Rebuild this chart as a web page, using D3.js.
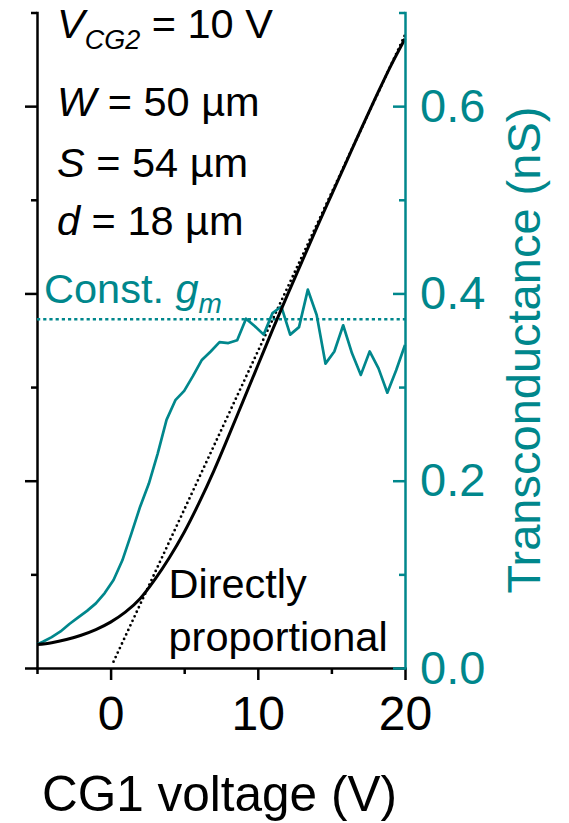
<!DOCTYPE html>
<html>
<head>
<meta charset="utf-8">
<script src="https://cdn.jsdelivr.net/npm/d3@7"></script>
<style>
  body { margin: 0; background: #fff; }
  svg { display: block; }
  text { font-family: "Liberation Sans", Arial, Helvetica, sans-serif; }
</style>
</head>
<body>
<svg id="chart" width="569" height="823"></svg>
<script>
// Drain current (arbitrary units, left axis) vs CG1 voltage
const voltage = [-5, -4, -3, -2, -1, 0, 1, 2, 3, 4, 5, 6, 7, 8, 9, 10,
                 11, 12, 13, 14, 15, 16, 17, 18, 19, 20];
const current = [0.125, 0.135, 0.152, 0.175, 0.205, 0.245, 0.298, 0.37, 0.472, 0.59,
                 0.725, 0.88, 1.05, 1.235, 1.425, 1.615, 1.805, 1.99, 2.17, 2.35,
                 2.525, 2.70, 2.875, 3.045, 3.21, 3.36];

// Transconductance (nS, right axis)
const gmVoltage = [-5.0, -4.6, -4.0, -3.4, -2.8, -2.2, -1.6, -1.0, -0.4, 0.2,
                   0.8, 1.4, 2.0, 2.6, 3.2, 3.8, 4.4, 5.0, 5.6, 6.2,
                   6.8, 7.4, 8.0, 8.6, 9.2, 9.8, 10.4, 11.0, 11.6, 12.2,
                   12.8, 13.4, 14.0, 14.6, 15.2, 15.8, 16.4, 17.0, 17.6, 18.2,
                   18.8, 19.4, 20.0];
const gm = [0.025, 0.028, 0.033, 0.039, 0.047, 0.054, 0.061, 0.069, 0.080, 0.094,
            0.115, 0.143, 0.172, 0.197, 0.229, 0.265, 0.286, 0.296, 0.312, 0.329,
            0.338, 0.348, 0.347, 0.350, 0.373, 0.365, 0.356, 0.379, 0.386, 0.356,
            0.364, 0.404, 0.377, 0.325, 0.338, 0.366, 0.336, 0.313, 0.338, 0.320,
            0.294, 0.318, 0.345];

// Directly proportional reference line (left axis units)
const propVoltage = [0.2, 20];
const propCurrent = [0.034, 3.38];

// Constant transconductance level (nS)
const constGm = 0.3725;

// Tick values
const xMajor = [0, 10, 20];
const xMinor = [-5, 5, 15];
const leftMajor = [0, 1, 2, 3];
const leftMinor = [0.5, 1.5, 2.5, 3.5];
const gmMajor = [0, 0.2, 0.4, 0.6];
const gmMinor = [0.1, 0.3, 0.5, 0.7];

const teal = "#00878c";
const svg = d3.select("#chart");

const x = d3.scaleLinear().domain([-5, 20]).range([37, 405]);
const yL = d3.scaleLinear().domain([0, 3.5]).range([668, 12.5]);
const yR = d3.scaleLinear().domain([0, 0.7]).range([668, 12.5]);

function styleAxis(g, color, size) {
  g.attr("color", color).attr("font-size", size)
   .attr("font-family", '"Liberation Sans", Arial, sans-serif');
  g.selectAll("path, line").attr("stroke-width", 2.5);
  g.selectAll("path.domain").attr("stroke-linecap", "square");
}

// x axis
const gx = svg.append("g").attr("transform", "translate(0,668)");
gx.call(d3.axisBottom(x).tickValues(xMajor).tickSize(12).tickPadding(16).tickSizeOuter(0)
  .tickFormat(d3.format("d")));
styleAxis(gx, "#000", 48);
const gxm = svg.append("g").attr("transform", "translate(0,668)");
gxm.call(d3.axisBottom(x).tickValues(xMinor).tickSize(6).tickSizeOuter(0).tickFormat(""));
gxm.select("path.domain").remove();
styleAxis(gxm, "#000", 10);

// left axis (unlabelled)
const gl = svg.append("g").attr("transform", "translate(37,0)");
gl.call(d3.axisLeft(yL).tickValues(leftMajor).tickSize(12).tickSizeOuter(0).tickFormat(""));
styleAxis(gl, "#000", 10);
const glm = svg.append("g").attr("transform", "translate(37,0)");
glm.call(d3.axisLeft(yL).tickValues(leftMinor).tickSize(6).tickSizeOuter(0).tickFormat(""));
glm.select("path.domain").remove();
styleAxis(glm, "#000", 10);

// curves
const lineI = d3.line().x((d, i) => x(voltage[i])).y(d => yL(d)).curve(d3.curveMonotoneX);
const lineGm = d3.line().x((d, i) => x(gmVoltage[i])).y(d => yR(d));
const lineProp = d3.line().x((d, i) => x(propVoltage[i])).y(d => yL(d));

svg.append("line")
  .attr("x1", x(-5)).attr("x2", x(20))
  .attr("y1", yR(constGm)).attr("y2", yR(constGm))
  .attr("stroke", teal).attr("stroke-width", 2.6)
  .attr("stroke-dasharray", "3.2,3");

svg.append("path").datum(propCurrent).attr("d", lineProp)
  .attr("fill", "none").attr("stroke", "#000").attr("stroke-width", 2.8)
  .attr("stroke-linecap", "round").attr("stroke-dasharray", "0,5");

svg.append("path").datum(gm).attr("d", lineGm)
  .attr("fill", "none").attr("stroke", teal).attr("stroke-width", 2.7)
  .attr("stroke-linejoin", "round");

svg.append("path").datum(current).attr("d", lineI)
  .attr("fill", "none").attr("stroke", "#000").attr("stroke-width", 3);

// right axis (transconductance), ticks pointing inward
const gr = svg.append("g").attr("transform", "translate(405,0)");
gr.call(d3.axisRight(yR).tickValues(gmMajor).tickSizeInner(-12).tickSizeOuter(0).tickPadding(15)
  .tickFormat(d3.format(".1f")));
styleAxis(gr, teal, 47);
const grm = svg.append("g").attr("transform", "translate(405,0)");
grm.call(d3.axisRight(yR).tickValues(gmMinor).tickSizeInner(-6).tickSizeOuter(0).tickFormat(""));
grm.select("path.domain").remove();
styleAxis(grm, teal, 10);

// axis titles
svg.append("text")
  .attr("x", 42).attr("y", 811)
  .attr("font-size", 49.5).attr("fill", "#000")
  .text("CG1 voltage (V)");

svg.append("text")
  .attr("transform", "translate(540,350) rotate(-90)")
  .attr("text-anchor", "middle")
  .attr("font-size", 47).attr("fill", teal)
  .text("Transconductance (nS)");

// device parameters
const params = svg.append("g").attr("font-size", 41.5).attr("fill", "#000");
const t1 = params.append("text").attr("x", 57).attr("y", 38);
t1.append("tspan").attr("font-style", "italic").text("V");
t1.append("tspan").attr("font-style", "italic").attr("font-size", 27).attr("dy", 11).text("CG2");
t1.append("tspan").attr("dy", -11).text(" = 10 V");

const t2 = params.append("text").attr("x", 57).attr("y", 116);
t2.append("tspan").attr("font-style", "italic").text("W");
t2.append("tspan").text(" = 50 \u00B5m");

const t3 = params.append("text").attr("x", 57).attr("y", 177);
t3.append("tspan").attr("font-style", "italic").text("S");
t3.append("tspan").text(" = 54 \u00B5m");

const t4 = params.append("text").attr("x", 57).attr("y", 235);
t4.append("tspan").attr("font-style", "italic").text("d");
t4.append("tspan").text(" = 18 \u00B5m");

// constant-gm label
const tg = svg.append("text").attr("x", 44).attr("y", 303)
  .attr("font-size", 41.5).attr("fill", teal);
tg.append("tspan").text("Const. ");
tg.append("tspan").attr("font-style", "italic").text("g");
tg.append("tspan").attr("font-style", "italic").attr("font-size", 28).attr("dy", 10).text("m");

// proportional-line label
svg.append("text").attr("x", 168.5).attr("y", 598)
  .attr("font-size", 41.5).attr("fill", "#000").text("Directly");
svg.append("text").attr("x", 168.5).attr("y", 651)
  .attr("font-size", 41.5).attr("fill", "#000").text("proportional");
</script>
</body>
</html>
